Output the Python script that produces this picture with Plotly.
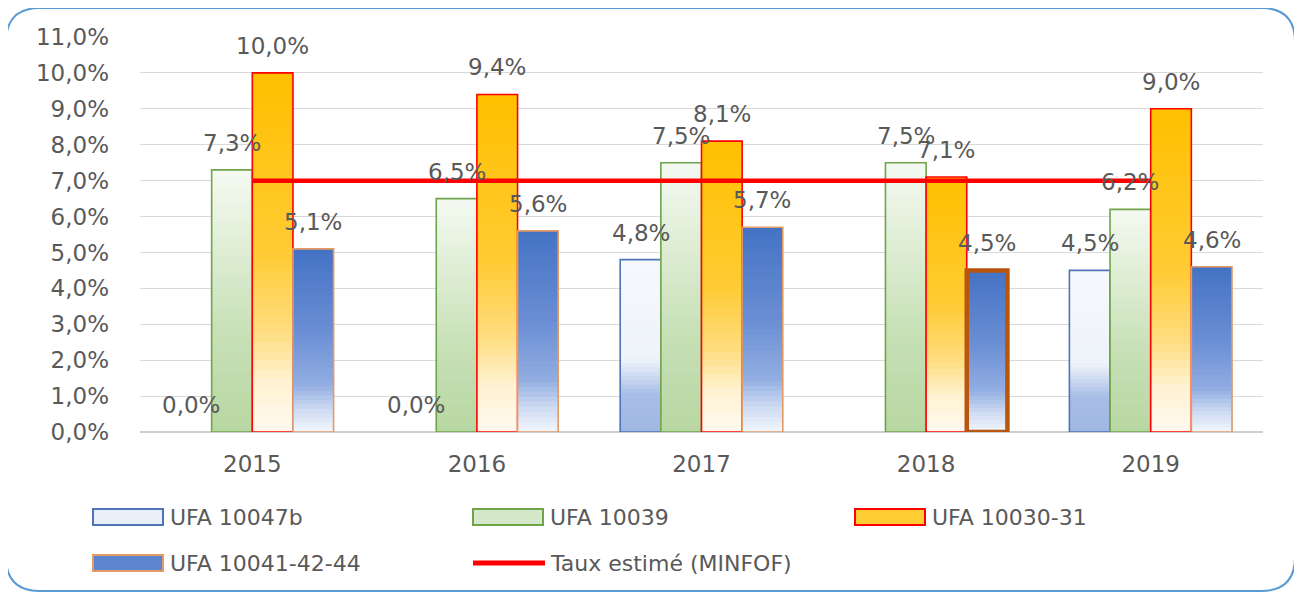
import plotly.graph_objects as go

# data (values in %)
YEARS = ["2015", "2016", "2017", "2018", "2019"]
UFA_10047B = [0.0, 0.0, 4.8, None, 4.5]
UFA_10039 = [7.3, 6.5, 7.5, 7.5, 6.2]
UFA_10030_31 = [10.0, 9.4, 8.1, 7.1, 9.0]
UFA_10041_42_44 = [5.1, 5.6, 5.7, 4.5, 4.6]
TAUX_MINFOF = [7.0, 7.0, 7.0, 7.0, 7.0]
Y_TICKS = list(range(0, 12))

TEXT = "#595959"
FONT = dict(family="DejaVu Sans, sans-serif", color=TEXT)

# gradient stops: (position from bar bottom 0..1, colour)
SERIES = [
    dict(name="UFA 10047b", values=UFA_10047B, line="#4f74b8",
         stops=[(0, "#9fb7e2"), (0.22, "#a8bee6"), (0.42, "#eef3fa"), (1, "#f6f8fc")],
         legend="#e9eff9"),
    dict(name="UFA 10039", values=UFA_10039, line="#6fa44a",
         stops=[(0, "#b8d7a2"), (0.35, "#c6e0b5"), (1, "#f4f9f1")],
         legend="#d5e8c9"),
    dict(name="UFA 10030-31", values=UFA_10030_31, line="#ff0000",
         stops=[(0, "#fffaf0"), (0.14, "#fff2d2"), (0.28, "#ffdd80"), (0.5, "#ffcb33"), (1, "#ffc000")],
         legend="#ffcc33"),
    dict(name="UFA 10041-42-44", values=UFA_10041_42_44, line="#e39a64",
         stops=[(0, "#f3f6fc"), (0.12, "#cfdbf2"), (0.26, "#91ade1"), (0.55, "#6a8ed4"), (1, "#4472c4")],
         legend="#5b85cf"),
]

# pixel geometry of the reference (page coords); the page body adds an 8px margin
PAD = 8
PL, PR, PT, PB = 140, 1263, 37, 432
W, H = 1302 - PAD, 597 - PAD
BAR_W = 0.181
N_SEG = 40


def fx(px):
    return (px - PL) / (PR - PL)


def fy(py):
    return (PB - py) / (PB - PT)


def _hex(c):
    c = c.lstrip("#")
    return [int(c[i:i + 2], 16) for i in (0, 2, 4)]


def grad(stops, t):
    for (p0, c0), (p1, c1) in zip(stops, stops[1:]):
        if p0 <= t <= p1:
            a = (t - p0) / (p1 - p0)
            r = [round(u + (v - u) * a) for u, v in zip(_hex(c0), _hex(c1))]
            return "rgb({},{},{})".format(*r)
    return stops[-1][1]


def pct(v):
    return f"{v:.1f}".replace(".", ",") + "%"


xs = list(range(len(YEARS)))
fig = go.Figure()
annotations = []

for j, s in enumerate(SERIES):
    off = -2 * BAR_W + j * BAR_W
    # vertical gradient: overlapping bars from tallest to shortest
    for k in range(N_SEG, 0, -1):
        frac = k / N_SEG
        fig.add_trace(go.Bar(
            x=xs, y=[None if v is None else v * frac for v in s["values"]],
            offset=off, width=BAR_W,
            marker=dict(color=grad(s["stops"], (k - 0.5) / N_SEG), line=dict(width=0)),
            showlegend=False, hoverinfo="skip",
        ))
    lw = [1.6 if v else 0 for v in s["values"]]
    lc = [s["line"]] * len(YEARS)
    if s["name"] == "UFA 10041-42-44":
        lw[3] = 4.5
        lc[3] = "#b8560f"
    fig.add_trace(go.Bar(
        x=xs, y=s["values"], offset=off, width=BAR_W, name=s["name"],
        marker=dict(color="rgba(0,0,0,0)", line=dict(width=lw, color=lc)),
        showlegend=False,
        hovertemplate="%{y:.1f}%<extra>" + s["name"] + "</extra>",
    ))
    for i, v in enumerate(s["values"]):
        if v is None:
            continue
        annotations.append(dict(
            x=i + off + BAR_W / 2, y=v, xref="x", yref="y",
            text=pct(v), showarrow=False, yanchor="middle", yshift=27,
            font=dict(size=23, **FONT),
        ))

fig.add_trace(go.Scatter(
    x=xs, y=TAUX_MINFOF, mode="lines", name="Taux estimé (MINFOF)",
    line=dict(color="#ff0000", width=4.5), showlegend=False,
))

# custom legend laid out like the original (two rows)
shapes = []
legend_items = [
    (93, 517, SERIES[0]), (473, 517, SERIES[1]), (855, 517, SERIES[2]),
    (93, 563, SERIES[3]), (473, 563, None),
]
for lx, ly, s in legend_items:
    if s is None:
        shapes.append(dict(type="line", xref="paper", yref="paper",
                           x0=fx(lx), x1=fx(lx + 72), y0=fy(ly), y1=fy(ly),
                           line=dict(color="#ff0000", width=5)))
        label = "Taux estimé (MINFOF)"
    else:
        shapes.append(dict(type="rect", xref="paper", yref="paper",
                           x0=fx(lx), x1=fx(lx + 70), y0=fy(ly - 8), y1=fy(ly + 8),
                           fillcolor=s["legend"], line=dict(color=s["line"], width=2)))
        label = s["name"]
    annotations.append(dict(
        x=fx(lx + 75), y=fy(ly), xref="paper", yref="paper",
        text=label, showarrow=False, xanchor="left", yanchor="middle",
        font=dict(size=22, **FONT),
    ))

# rounded outer border
L, R, T, B, r = 6, 1295, 8, 591, 34
pts = [
    ("M", [(L + r, T)]), ("L", [(R - r, T)]), ("Q", [(R, T), (R, T + r)]),
    ("L", [(R, B - r)]), ("Q", [(R, B), (R - r, B)]), ("L", [(L + r, B)]),
    ("Q", [(L, B), (L, B - r)]), ("L", [(L, T + r)]), ("Q", [(L, T), (L + r, T)]),
]
path = " ".join(cmd + " " + " ".join(f"{fx(a):.5f},{fy(b):.5f}" for a, b in p) for cmd, p in pts) + " Z"
shapes.append(dict(type="path", xref="paper", yref="paper", path=path,
                   line=dict(color="#5b9bd5", width=2)))

fig.update_layout(
    width=W, height=H,
    paper_bgcolor="white", plot_bgcolor="white",
    font=FONT, barmode="overlay",
    margin=dict(l=PL - PAD, r=1302 - PR, t=PT - PAD, b=597 - PB),
    showlegend=False, annotations=annotations, shapes=shapes,
)
fig.update_xaxes(
    range=[-0.5, 4.5], tickvals=xs, ticktext=YEARS, showgrid=False,
    zeroline=False, showline=False, ticks="", ticklabelstandoff=16,
    tickfont=dict(size=23, color=TEXT),
)
fig.update_yaxes(
    range=[0, 11], tickvals=Y_TICKS, ticktext=[pct(v) for v in Y_TICKS],
    showgrid=True, gridcolor="#d9d9d9", gridwidth=1,
    zeroline=True, zerolinecolor="#cfcfcf", zerolinewidth=1.5,
    ticks="", ticklabelstandoff=30, tickfont=dict(size=23, color=TEXT),
)

fig.write_html("out.html")
